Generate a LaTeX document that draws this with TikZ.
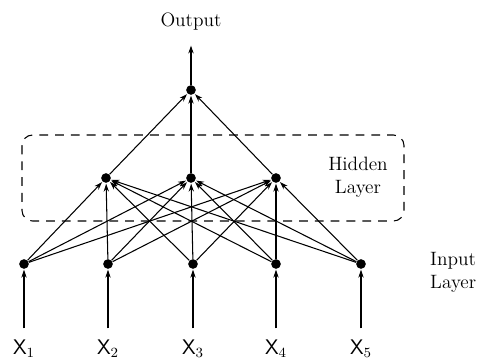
\documentclass[tikz,border=0pt]{standalone}
\usetikzlibrary{arrows.meta,positioning}
\begin{document}
\begin{tikzpicture}[x=0.02cm, y=-0.02cm,
  every node/.style={font=\fontsize{11}{13}\selectfont},
  unit/.style={circle, fill=black, inner sep=0pt, minimum size=5.5pt},
  arr/.style={-{Stealth[length=4.5pt, width=3pt]}, line width=0.6pt, shorten >=0.3pt},
  xlab/.style={inner sep=1.5pt, font=\fontsize{12}{14}\selectfont\sffamily}
]
  \useasboundingbox (0,0) rectangle (478,359);

  % input layer
  \foreach \i/\x in {1/24, 2/108, 3/193, 4/276, 5/361} {
    \node[unit] (in\i) at (\x,264) {};
    \node[xlab] (lab\i) at (\x,349) {X$_{\i}$};
    \draw[arr, shorten <=5pt] (lab\i.north) -- (in\i);
  }

  % hidden layer
  \foreach \j/\x in {1/106, 2/191, 3/276}
    \node[unit] (hid\j) at (\x,178) {};

  % output unit
  \node[unit] (out) at (191,90) {};
  \coordinate (outtip) at (191,45);
  \node (outlab) at (191,22) {Output};

  \foreach \i in {1,...,5}
    \foreach \j in {1,2,3}
      \draw[arr] (in\i) -- (hid\j);
  \foreach \j in {1,2,3}
    \draw[arr] (hid\j) -- (out);
  \draw[arr] (out) -- (outtip);

  % layer boxes and labels
  \draw[dashed, line width=0.6pt, dash pattern=on 5pt off 4pt, rounded corners=6pt]
    (22,135) rectangle (404,221);
  \node[align=center] (hidlab) at (358,177) {Hidden\\Layer};
  \node[align=left, anchor=west] (inlab) at (424,272) {Input\\Layer};
\end{tikzpicture}
\end{document}
